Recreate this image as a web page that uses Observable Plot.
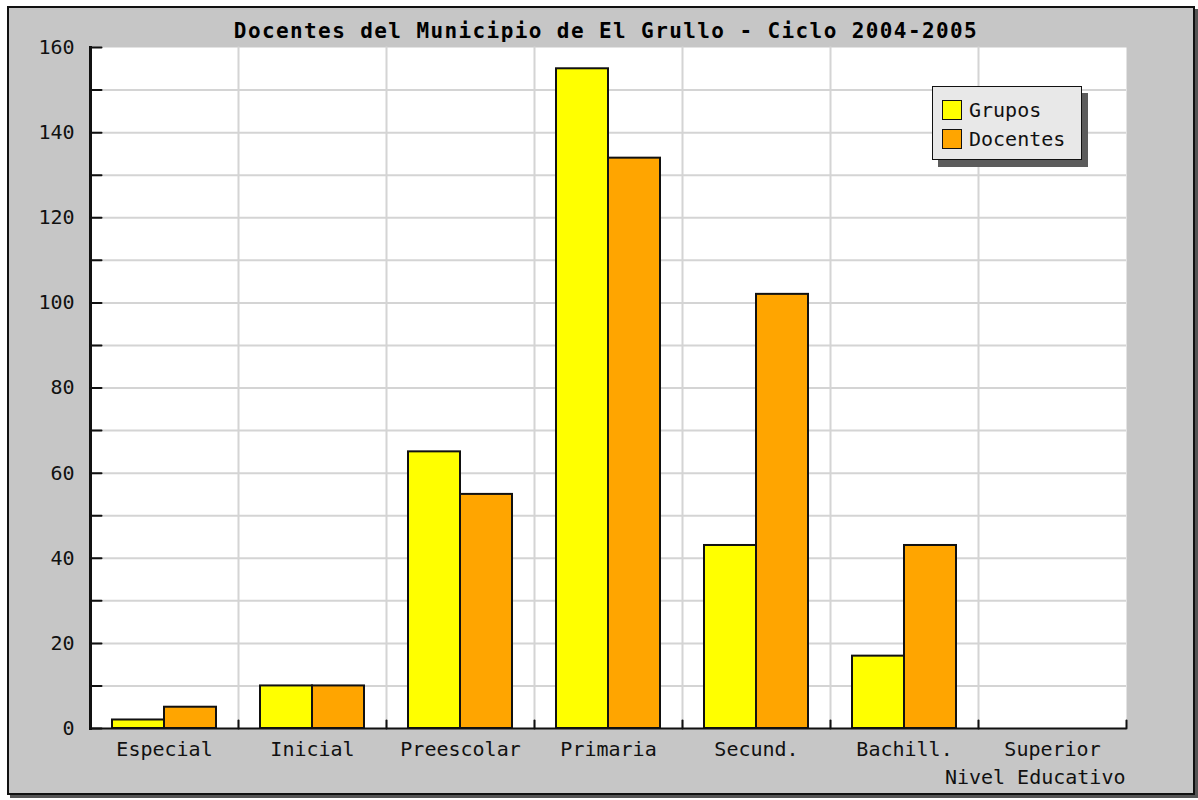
<!DOCTYPE html>
<html>
<head>
<meta charset="utf-8">
<script src="https://cdn.jsdelivr.net/npm/d3@7"></script>
<script src="https://cdn.jsdelivr.net/npm/@observablehq/plot@0.6"></script>
<style>
  html, body { margin: 0; padding: 0; background: #ffffff; }
  #wrap { position: relative; width: 1198px; height: 800px; overflow: hidden; font-family: "DejaVu Sans Mono", monospace; }
  #panel { position: absolute; left: 7px; top: 6px; width: 1188px; height: 789px; box-sizing: border-box;
           background: #c6c6c6; border: 2px solid #111; box-shadow: 3px 3px 0 #555; }
  #title { position: absolute; left: 0; width: 1212px; top: 19px; text-align: center; font-weight: bold;
           font-size: 21px; letter-spacing: 1.4px; color: #000; white-space: pre; }
  #chart { position: absolute; left: 0; top: 0; }
  #legend { position: absolute; left: 932px; top: 86px; width: 150px; height: 74px; box-sizing: border-box;
            background: #e8e8e8; border: 1.5px solid #111; box-shadow: 6px 7px 0 #5c5c5c; }
  .item { position: absolute; left: 9px; height: 21px; font-size: 20px; letter-spacing: 0px; line-height: 21px; color: #111; }
  .sw { display: inline-block; width: 18px; height: 18px; border: 1.5px solid #111; vertical-align: top; margin-right: 7px; }
</style>
</head>
<body>
<div id="wrap">
  <div id="panel"></div>
  <div id="chart"></div>
  <div id="title"></div>
  <div id="legend"></div>
</div>
<script>
// ---- data ----
const titulo = "Docentes del Municipio de El Grullo - Ciclo 2004-2005";
const ejeX = "Nivel Educativo";
const niveles = ["Especial", "Inicial", "Preescolar", "Primaria", "Secund.", "Bachill.", "Superior"];
const grupos   = [2, 10, 65, 155, 43, 17, 0];
const docentes = [5, 10, 55, 134, 102, 43, 0];
const series = ["Grupos", "Docentes"];
const colores = ["#ffff00", "#ffa500"];
const yTicks = [0, 10, 20, 30, 40, 50, 60, 70, 80, 90, 100, 110, 120, 130, 140, 150, 160];
const yLabels = [0, 20, 40, 60, 80, 100, 120, 140, 160];
const yGrid = [10, 20, 30, 40, 50, 60, 70, 80, 90, 100, 110, 120, 130, 140, 150];

const datos = [];
niveles.forEach((n, i) => {
  datos.push({nivel: n, serie: series[0], valor: grupos[i]});
  datos.push({nivel: n, serie: series[1], valor: docentes[i]});
});

const lineShape = {draw(ctx, l) { ctx.moveTo(0, 0); ctx.lineTo(0, -l); }};

const chart = Plot.plot({
  width: 1198,
  height: 800,
  marginLeft: 87,
  marginRight: 70,
  marginTop: 47,
  marginBottom: 72,
  style: {background: "transparent", fontFamily: "DejaVu Sans Mono", fontSize: "20px", color: "#111", overflow: "visible"},
  fx: {domain: niveles, padding: 0, label: null, axis: null},
  x: {domain: series, paddingInner: 0, paddingOuter: 0.414, axis: null},
  y: {domain: [0, 160], axis: null},
  color: {domain: series, range: colores},
  marks: [
    Plot.frame({fill: "white", stroke: "none"}),
    Plot.ruleY(yGrid, {stroke: "#d4d4d4", strokeWidth: 2}),
    Plot.frame({anchor: "left", stroke: "#d4d4d4", strokeWidth: 2}),
    Plot.barY(datos, {fx: "nivel", x: "serie", y: "valor", fill: "serie", stroke: "#111", strokeWidth: 2}),
    Plot.ruleY([0], {stroke: "#111", strokeWidth: 2}),
    Plot.vector([0], {frameAnchor: "bottom-right", length: 8, rotate: 0, anchor: "start", shape: lineShape, stroke: "#111", strokeWidth: 2}),
    Plot.frame({anchor: "left", stroke: "#111", strokeWidth: 3, facetAnchor: "left"}),
    Plot.vector(yTicks, {y: d => d, frameAnchor: "left", length: 11, rotate: 90, anchor: "start", shape: lineShape, stroke: "#111", strokeWidth: 2, facetAnchor: "left"}),
    Plot.axisY({ticks: yLabels, tickSize: 0, tickPadding: 16, label: null, fontSize: 20}),
    Plot.axisFx({domain: niveles, anchor: "bottom", tickSize: 0, tickPadding: 13, label: null, fontSize: 20}),
    Plot.text([ejeX], {text: d => d, frameAnchor: "bottom-right", facetAnchor: "right", textAnchor: "end", dy: 55, dx: -1, fontSize: 20})
  ]
});
document.getElementById("chart").appendChild(chart);
document.getElementById("title").textContent = titulo;

const legend = document.getElementById("legend");
series.forEach((s, i) => {
  const it = document.createElement("div");
  it.className = "item";
  it.style.top = (13 + i * 29) + "px";
  const sw = document.createElement("span");
  sw.className = "sw";
  sw.style.background = colores[i];
  it.appendChild(sw);
  it.appendChild(document.createTextNode(s));
  legend.appendChild(it);
});
</script>
</body>
</html>
